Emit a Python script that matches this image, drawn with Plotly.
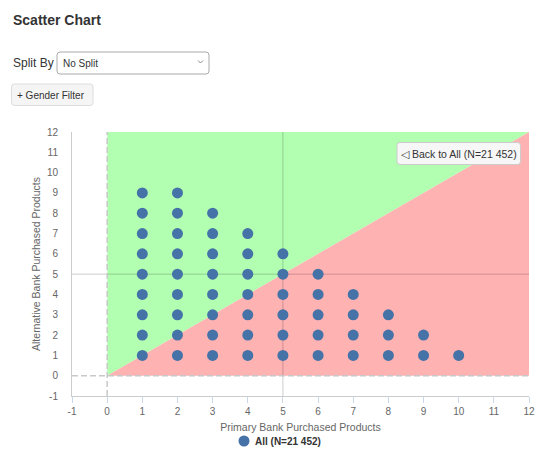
import plotly.graph_objects as go

# ---- data ----
points_x = [1, 1, 1, 1, 1, 1, 1, 1, 1,
            2, 2, 2, 2, 2, 2, 2, 2, 2,
            3, 3, 3, 3, 3, 3, 3, 3,
            4, 4, 4, 4, 4, 4, 4,
            5, 5, 5, 5, 5, 5,
            6, 6, 6, 6, 6,
            7, 7, 7, 7,
            8, 8, 8,
            9, 9,
            10]
points_y = [1, 2, 3, 4, 5, 6, 7, 8, 9,
            1, 2, 3, 4, 5, 6, 7, 8, 9,
            1, 2, 3, 4, 5, 6, 7, 8,
            1, 2, 3, 4, 5, 6, 7,
            1, 2, 3, 4, 5, 6,
            1, 2, 3, 4, 5,
            1, 2, 3, 4,
            1, 2, 3,
            1, 2,
            1]
series_name = "All (N=21 452)"
x_title = "Primary Bank Purchased Products"
y_title = "Alternative Bank Purchased Products"
tick_values = [-1, 0, 1, 2, 3, 4, 5, 6, 7, 8, 9, 10, 11, 12]
tick_labels = ["-1", "0", "1", "2", "3", "4", "5", "6", "7", "8", "9", "10", "11", "12"]
axis_min, axis_max = -1, 12
zone_max = 12
plot_line_x = 5
plot_line_y = 5

# ---- layout helpers (pixel -> paper) ----
W, H = 550, 457
PL, PR, PT, PB = 72, 529, 132, 396


def px(x):
    return (x - PL) / (PR - PL)


def py(y):
    return (PB - y) / (PB - PT)


def rounded_rect(x0, y0, x1, y1, r):
    pts = [
        ("M", x0 + r, y0), ("L", x1 - r, y0), ("Q", x1, y0, x1, y0 + r),
        ("L", x1, y1 - r), ("Q", x1, y1, x1 - r, y1), ("L", x0 + r, y1),
        ("Q", x0, y1, x0, y1 - r), ("L", x0, y0 + r), ("Q", x0, y0, x0 + r, y0),
    ]
    parts = []
    for p in pts:
        if p[0] == "Q":
            parts.append(f"Q {px(p[1])} {py(p[2])} {px(p[3])} {py(p[4])}")
        else:
            parts.append(f"{p[0]} {px(p[1])} {py(p[2])}")
    return " ".join(parts) + " Z"


FONT = "Liberation Sans, Arial, sans-serif"
BLUE = "#4572A7"

fig = go.Figure()
fig.add_trace(go.Scatter(
    x=points_x, y=points_y, mode="markers", name=series_name,
    marker=dict(size=11, color=BLUE, line=dict(width=0)),
    showlegend=False, hoverinfo="x+y",
))

shapes = []
# zones
shapes.append(dict(type="path", xref="x", yref="y", layer="below",
                   path=f"M 0 0 L 0 {zone_max} L {zone_max} {zone_max} Z",
                   fillcolor="rgb(178,255,178)", line=dict(width=0)))
shapes.append(dict(type="path", xref="x", yref="y", layer="below",
                   path=f"M 0 0 L {zone_max} 0 L {zone_max} {zone_max} Z",
                   fillcolor="rgb(255,178,178)", line=dict(width=0)))
# plot lines
shapes.append(dict(type="line", xref="x", yref="y", layer="below",
                   x0=plot_line_x, x1=plot_line_x, y0=axis_min, y1=axis_max,
                   line=dict(color="rgba(0,0,0,0.2)", width=1)))
shapes.append(dict(type="line", xref="x", yref="y", layer="below",
                   x0=axis_min, x1=axis_max, y0=plot_line_y, y1=plot_line_y,
                   line=dict(color="rgba(0,0,0,0.2)", width=1)))
# dashed zero lines
shapes.append(dict(type="line", xref="x", yref="y", layer="below",
                   x0=0, x1=0, y0=axis_min, y1=axis_max,
                   line=dict(color="#c8c8c8", width=1.5, dash="6px,3px")))
shapes.append(dict(type="line", xref="x", yref="y", layer="below",
                   x0=axis_min, x1=axis_max, y0=0, y1=0,
                   line=dict(color="#c8c8c8", width=1.5, dash="6px,3px")))

# UI: dropdown
shapes.append(dict(type="path", xref="paper", yref="paper", layer="above",
                   path=rounded_rect(57, 52, 209, 74, 3),
                   fillcolor="white", line=dict(color="#aaaaaa", width=1)))
shapes.append(dict(type="path", xref="paper", yref="paper", layer="above",
                   path=f"M {px(198)} {py(60.5)} L {px(200.5)} {py(63)} L {px(203)} {py(60.5)}",
                   line=dict(color="#888888", width=1)))
# UI: gender filter button
shapes.append(dict(type="path", xref="paper", yref="paper", layer="above",
                   path=rounded_rect(11.5, 84, 93, 105.5, 3),
                   fillcolor="#f5f5f5", line=dict(color="#dddddd", width=1)))
# UI: back to all button
shapes.append(dict(type="path", xref="paper", yref="paper", layer="above",
                   path=rounded_rect(397, 142.5, 520.5, 164.5, 3),
                   fillcolor="#f7f7f7", line=dict(color="#cccccc", width=1)))
# legend symbol
shapes.append(dict(type="circle", xref="paper", yref="paper", layer="above",
                   x0=px(238.5), x1=px(249.5), y0=py(446.5), y1=py(435.5),
                   fillcolor=BLUE, line=dict(width=0)))

annotations = [
    dict(text="<b>Scatter Chart</b>", x=px(11), y=py(20), xref="paper", yref="paper",
         xanchor="left", yanchor="middle", showarrow=False,
         font=dict(family=FONT, size=14, color="#333333")),
    dict(text="Split By", x=px(10.5), y=py(63), xref="paper", yref="paper",
         xanchor="left", yanchor="middle", showarrow=False,
         font=dict(family=FONT, size=12, color="#333333")),
    dict(text="No Split", x=px(61), y=py(63.5), xref="paper", yref="paper",
         xanchor="left", yanchor="middle", showarrow=False,
         font=dict(family=FONT, size=10, color="#333333")),
    dict(text="+ Gender Filter", x=px(15), y=py(95), xref="paper", yref="paper",
         xanchor="left", yanchor="middle", showarrow=False,
         font=dict(family=FONT, size=10, color="#333333")),
    dict(text="◁ Back to All (N=21 452)", x=px(458.75), y=py(153.5), xref="paper", yref="paper",
         xanchor="center", yanchor="middle", showarrow=False,
         font=dict(family=FONT, size=10.5, color="#333333")),
    dict(text="<b>" + series_name + "</b>", x=px(253), y=py(441), xref="paper", yref="paper",
         xanchor="left", yanchor="middle", showarrow=False,
         font=dict(family=FONT, size=10, color="#333333")),
]

fig.update_layout(
    width=W, height=H,
    margin=dict(l=PL, r=W - PR, t=PT, b=H - PB, pad=0),
    paper_bgcolor="white", plot_bgcolor="white",
    font=dict(family=FONT, size=10, color="#666666"),
    shapes=shapes, annotations=annotations,
    showlegend=False,
    xaxis=dict(range=[axis_min, axis_max], tickmode="array",
               tickvals=tick_values, ticktext=tick_labels, showgrid=False,
               zeroline=False, showline=True, linecolor="#cccccc", linewidth=1,
               ticks="outside", ticklen=6, tickcolor="#ccd6eb",
               tickfont=dict(family=FONT, size=10, color="#666666"),
               title=dict(text=x_title, standoff=7,
                          font=dict(family=FONT, size=10.5, color="#666666"))),
    yaxis=dict(range=[axis_min, axis_max], tickmode="array",
               tickvals=tick_values, ticktext=tick_labels, showgrid=False,
               zeroline=False, showline=True, linecolor="#cccccc", linewidth=1,
               ticks="", ticklabelstandoff=11,
               tickfont=dict(family=FONT, size=10, color="#666666"),
               title=dict(text=y_title, standoff=4,
                          font=dict(family=FONT, size=10.5, color="#666666"))),
)

fig.write_html("out.html")
